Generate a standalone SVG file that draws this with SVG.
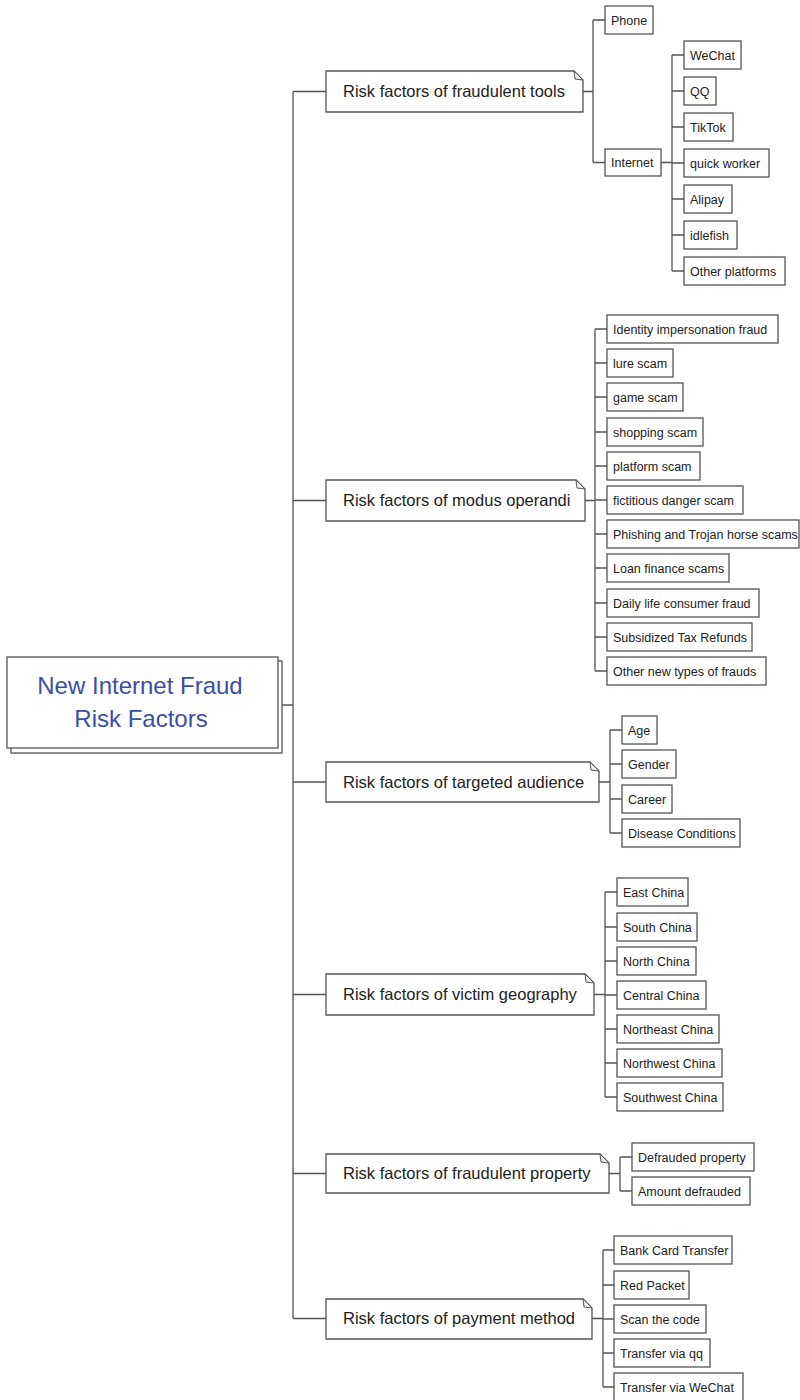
<svg xmlns="http://www.w3.org/2000/svg" width="800" height="1400" viewBox="0 0 800 1400">
<style>
.bx{fill:#fff;stroke:#555;stroke-width:1.3}
.l1{fill:#fff;stroke:#555;stroke-width:1.3}
.ear{fill:#eee;stroke:#555;stroke-width:1}
.t1{font-family:"Liberation Sans",Arial,sans-serif;font-size:16.5px;fill:#222}
.t2{font-family:"Liberation Sans",Arial,sans-serif;font-size:12.5px;fill:#222}
.tr{font-family:"Liberation Sans",Arial,sans-serif;font-size:24px;fill:#3a4ea6;text-anchor:middle}
.cn{fill:none;stroke:#555;stroke-width:1.3}
</style>
<rect width="800" height="1400" fill="#fff"/>
<g id="connectors">
<path class="cn" d="M282,705H293M293,91.5V1318.5M293,91.5H326M293,500.5H326M293,782H326M293,994.5H326M293,1173.5H326M293,1318.5H326"/>
<path class="cn" d="M583,91.5H593M593,20V162.5M593,20H605M593,162.5H605"/>
<path class="cn" d="M661,162.5H672M672,55V271M672,55H684M672,91H684M672,127H684M672,163H684M672,199H684M672,235H684M672,271H684"/>
<path class="cn" d="M585,500.5H595M595,329V671M595,329H607M595,363H607M595,397H607M595,432H607M595,466H607M595,500H607M595,534H607M595,568H607M595,603H607M595,637H607M595,671H607"/>
<path class="cn" d="M599,782H610M610,730V833M610,730H622M610,764H622M610,799H622M610,833H622"/>
<path class="cn" d="M594,994.5H605M605,892V1097M605,892H617M605,927H617M605,961H617M605,995H617M605,1029H617M605,1063H617M605,1097H617"/>
<path class="cn" d="M609,1173.5H620M620,1157V1191M620,1157H632M620,1191H632"/>
<path class="cn" d="M592,1318.5H603M603,1250V1387M603,1250H614M603,1285H614M603,1319H614M603,1353H614M603,1387H614"/>
</g>
<g id="root">
<rect class="bx" x="11" y="661" width="271" height="92"/>
<rect class="bx" x="7" y="657" width="271" height="91"/>
<text class="tr" x="140" y="694">New Internet Fraud</text>
<text class="tr" x="141" y="727">Risk Factors</text>
</g>
<g id="n-tools">
<path class="l1" d="M326,71H574L583,80V112H326Z"/><path class="ear" d="M574,71L575,79L583,80Z"/>
<text class="t1" x="343" y="97">Risk factors of fraudulent tools</text>
</g>
<g id="n-modus">
<path class="l1" d="M326,480H576L585,489V521H326Z"/><path class="ear" d="M576,480L577,488L585,489Z"/>
<text class="t1" x="343" y="506">Risk factors of modus operandi</text>
</g>
<g id="n-audience">
<path class="l1" d="M326,762H590L599,771V802H326Z"/><path class="ear" d="M590,762L591,770L599,771Z"/>
<text class="t1" x="343" y="787.5">Risk factors of targeted audience</text>
</g>
<g id="n-geo">
<path class="l1" d="M326,974H585L594,983V1015H326Z"/><path class="ear" d="M585,974L586,982L594,983Z"/>
<text class="t1" x="343" y="1000">Risk factors of victim geography</text>
</g>
<g id="n-property">
<path class="l1" d="M326,1154H600L609,1163V1193H326Z"/><path class="ear" d="M600,1154L601,1162L609,1163Z"/>
<text class="t1" x="343" y="1179">Risk factors of fraudulent property</text>
</g>
<g id="n-payment">
<path class="l1" d="M326,1299H583L592,1308V1339H326Z"/><path class="ear" d="M583,1299L584,1307L592,1308Z"/>
<text class="t1" x="343" y="1324">Risk factors of payment method</text>
</g>
<g id="c-phone"><rect class="bx" x="605" y="6" width="48" height="28"/><text class="t2" x="611" y="24.5">Phone</text></g>
<g id="c-internet"><rect class="bx" x="605" y="149" width="56" height="27"/><text class="t2" x="611" y="167">Internet</text></g>
<g id="c-wechat"><rect class="bx" x="684" y="41" width="57" height="28"/><text class="t2" x="690" y="59.5">WeChat</text></g>
<g id="c-qq"><rect class="bx" x="684" y="77" width="32" height="28"/><text class="t2" x="690" y="95.5">QQ</text></g>
<g id="c-tiktok"><rect class="bx" x="684" y="113" width="49" height="28"/><text class="t2" x="690" y="131.5">TikTok</text></g>
<g id="c-quick"><rect class="bx" x="684" y="149" width="85" height="28"/><text class="t2" x="690" y="167.5">quick worker</text></g>
<g id="c-alipay"><rect class="bx" x="684" y="185" width="48" height="28"/><text class="t2" x="690" y="203.5">Alipay</text></g>
<g id="c-idlefish"><rect class="bx" x="684" y="221" width="53" height="28"/><text class="t2" x="690" y="239.5">idlefish</text></g>
<g id="c-otherplat"><rect class="bx" x="684" y="257" width="101" height="28"/><text class="t2" x="690" y="275.5">Other platforms</text></g>
<g id="c-identity"><rect class="bx" x="607" y="315" width="171" height="28"/><text class="t2" x="613" y="333.5">Identity impersonation fraud</text></g>
<g id="c-lure"><rect class="bx" x="607" y="349" width="66" height="28"/><text class="t2" x="613" y="367.5">lure scam</text></g>
<g id="c-game"><rect class="bx" x="607" y="383" width="76" height="28"/><text class="t2" x="613" y="401.5">game scam</text></g>
<g id="c-shopping"><rect class="bx" x="607" y="418" width="96" height="28"/><text class="t2" x="613" y="436.5">shopping scam</text></g>
<g id="c-platform"><rect class="bx" x="607" y="452" width="93" height="28"/><text class="t2" x="613" y="470.5">platform scam</text></g>
<g id="c-fictitious"><rect class="bx" x="607" y="486" width="136" height="28"/><text class="t2" x="613" y="504.5">fictitious danger scam</text></g>
<g id="c-phishing"><rect class="bx" x="607" y="520" width="192" height="28"/><text class="t2" x="613" y="538.5">Phishing and Trojan horse scams</text></g>
<g id="c-loan"><rect class="bx" x="607" y="554" width="122" height="28"/><text class="t2" x="613" y="572.5">Loan finance scams</text></g>
<g id="c-daily"><rect class="bx" x="607" y="589" width="152" height="28"/><text class="t2" x="613" y="607.5">Daily life consumer fraud</text></g>
<g id="c-tax"><rect class="bx" x="607" y="623" width="145" height="28"/><text class="t2" x="613" y="641.5">Subsidized Tax Refunds</text></g>
<g id="c-othernew"><rect class="bx" x="607" y="657" width="159" height="28"/><text class="t2" x="613" y="675.5">Other new types of frauds</text></g>
<g id="c-age"><rect class="bx" x="622" y="716" width="35" height="28"/><text class="t2" x="628" y="734.5">Age</text></g>
<g id="c-gender"><rect class="bx" x="622" y="750" width="54" height="28"/><text class="t2" x="628" y="768.5">Gender</text></g>
<g id="c-career"><rect class="bx" x="622" y="785" width="50" height="28"/><text class="t2" x="628" y="803.5">Career</text></g>
<g id="c-disease"><rect class="bx" x="622" y="819" width="118" height="28"/><text class="t2" x="628" y="837.5">Disease Conditions</text></g>
<g id="c-east"><rect class="bx" x="617" y="878" width="71" height="28"/><text class="t2" x="623" y="896.5">East China</text></g>
<g id="c-south"><rect class="bx" x="617" y="913" width="80" height="28"/><text class="t2" x="623" y="931.5">South China</text></g>
<g id="c-north"><rect class="bx" x="617" y="947" width="79" height="28"/><text class="t2" x="623" y="965.5">North China</text></g>
<g id="c-central"><rect class="bx" x="617" y="981" width="89" height="28"/><text class="t2" x="623" y="999.5">Central China</text></g>
<g id="c-northeast"><rect class="bx" x="617" y="1015" width="102" height="28"/><text class="t2" x="623" y="1033.5">Northeast China</text></g>
<g id="c-northwest"><rect class="bx" x="617" y="1049" width="105" height="28"/><text class="t2" x="623" y="1067.5">Northwest China</text></g>
<g id="c-southwest"><rect class="bx" x="617" y="1083" width="106" height="28"/><text class="t2" x="623" y="1101.5">Southwest China</text></g>
<g id="c-defrauded"><rect class="bx" x="632" y="1143" width="122" height="28"/><text class="t2" x="638" y="1161.5">Defrauded property</text></g>
<g id="c-amount"><rect class="bx" x="632" y="1177" width="118" height="28"/><text class="t2" x="638" y="1195.5">Amount defrauded</text></g>
<g id="c-bank"><rect class="bx" x="614" y="1236" width="118" height="28"/><text class="t2" x="620" y="1254.5">Bank Card Transfer</text></g>
<g id="c-red"><rect class="bx" x="614" y="1271" width="75" height="28"/><text class="t2" x="620" y="1289.5">Red Packet</text></g>
<g id="c-scan"><rect class="bx" x="614" y="1305" width="92" height="28"/><text class="t2" x="620" y="1323.5">Scan the code</text></g>
<g id="c-qqpay"><rect class="bx" x="614" y="1339" width="96" height="28"/><text class="t2" x="620" y="1357.5">Transfer via qq</text></g>
<g id="c-wechatpay"><rect class="bx" x="614" y="1373" width="129" height="28"/><text class="t2" x="620" y="1391.5">Transfer via WeChat</text></g>
</svg>
